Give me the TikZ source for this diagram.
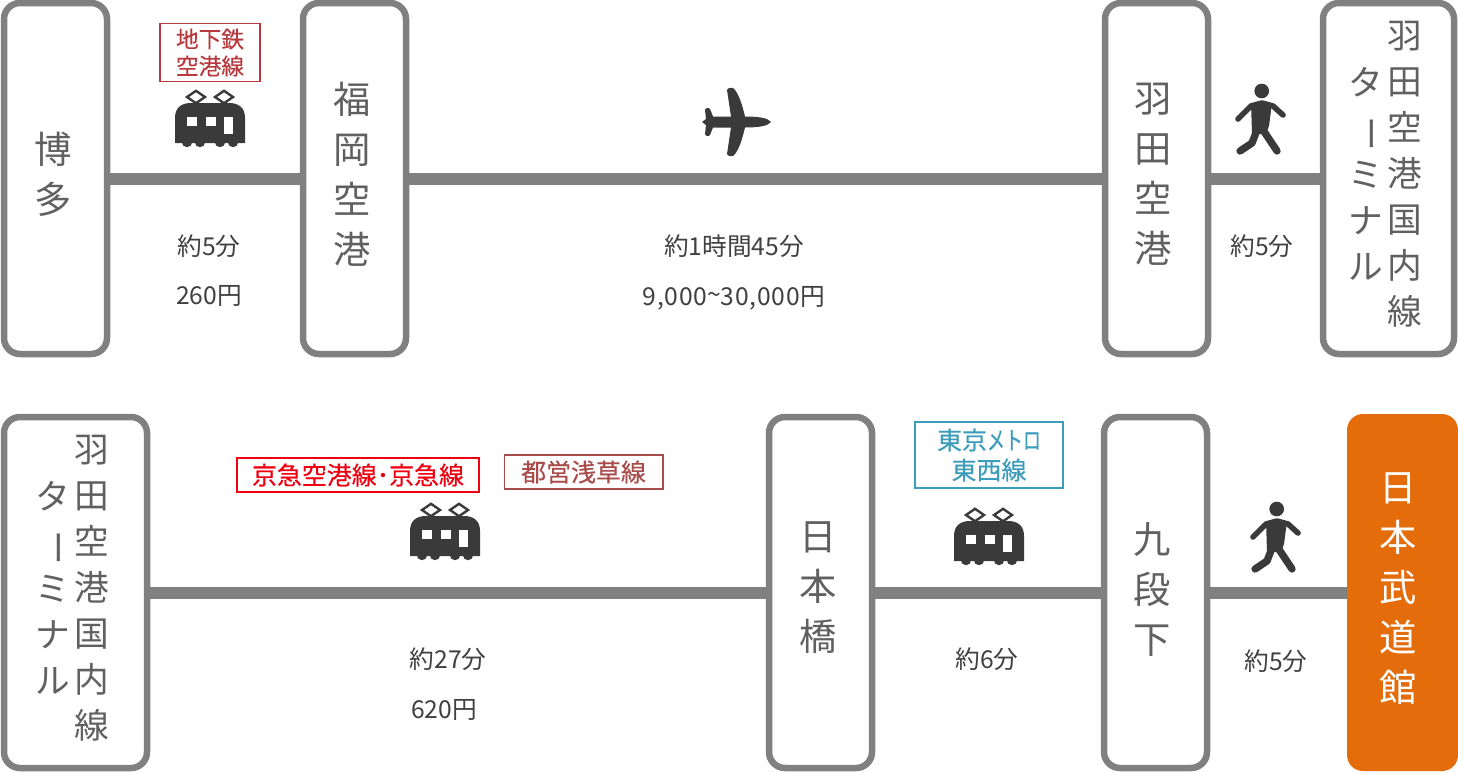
\documentclass[tikz,border=0pt]{standalone}
\usepackage{fontspec}
\setmainfont{Noto Sans CJK JP}
\newfontfamily\tagfont[FakeBold=0.35]{Noto Sans CJK JP}
\definecolor{boxgray}{HTML}{808080}
\definecolor{icondark}{HTML}{3A3A3A}
\definecolor{textgray}{HTML}{606060}
\definecolor{labelgray}{HTML}{404040}
\definecolor{goal}{HTML}{E46C0A}
\definecolor{subred}{HTML}{B83A3E}
\definecolor{keired}{HTML}{EE0011}
\definecolor{toeired}{HTML}{A84C4C}
\definecolor{metroblue}{HTML}{3C9CBC}
\newcommand{\vbar}{\rotatebox[origin=c]{-90}{ー}}
\tikzset{
  x=0.75pt,y=-0.75pt,
  stationbox/.style={draw=boxgray,line width=4.875pt,rounded corners=12pt,fill=white,inner sep=0pt,minimum height=263.25pt},
  goalbox/.style={fill=goal,rounded corners=12pt,inner sep=0pt},
  routeline/.style={draw=boxgray,line width=9pt},
  bigtext/.style={font=\fontsize{28}{37.5}\selectfont,text=textgray,align=center,inner sep=0pt},
  coltext/.style={font=\fontsize{26}{34.5}\selectfont,text=textgray,align=center,inner sep=0pt},
  infotext/.style={font=\fontsize{18.5}{20}\selectfont,text=labelgray,inner sep=0pt},
  tagbox/.style={draw=#1,text=#1,line width=1pt,fill=white,align=center,inner sep=0pt},
  pics/trainicon/.style={code={
    \fill[icondark] (0,53) -- (0,28) .. controls (0,18) and (6,13) .. (16,13) -- (54,13) .. controls (64,13) and (70,18) .. (70,28) -- (70,53) -- cycle;
    \foreach \wx in {12,25,45,58} \fill[icondark] (\wx,52) circle[radius=3.9pt];
    \draw[icondark,line width=1.8pt,fill=white] (12,7) -- (21,0.8) -- (30,7) -- (21,13.2) -- cycle;
    \draw[icondark,line width=1.8pt,fill=white] (40,7) -- (49,0.8) -- (58,7) -- (49,13.2) -- cycle;
    \fill[white] (12,27) rectangle (22,36);
    \fill[white] (31,27) rectangle (41,36);
    \fill[white] (49,27) rectangle (58,44);
  }},
  pics/planeicon/.style={code={
    \fill[icondark] (34,0) .. controls (31,-4) and (22,-5.5) .. (8,-5.5) .. controls (5,-18) and (2,-27) .. (-2,-32) .. controls (-3,-35) and (-9,-35) .. (-10,-32) -- (-6,-5.5) -- (-24,-5.5) -- (-27,-13) .. controls (-28,-15) and (-32,-14) .. (-32,-12) -- (-31,-3) -- (-35,0) -- (-31,3) -- (-32,12) .. controls (-32,14) and (-28,15) .. (-27,13) -- (-24,5.5) -- (-6,5.5) -- (-10,32) .. controls (-9,35) and (-3,35) .. (-2,32) .. controls (2,27) and (5,18) .. (8,5.5) .. controls (22,5.5) and (31,4) .. (34,0) -- cycle;
  }},
  pics/walkericon/.style={code={
    \fill[icondark] (1.7,-27) circle[radius=5.5pt];
    \draw[icondark,line width=4.2pt,line cap=round,line join=round] (-22,1) -- (-9,-12) -- (2,-15) -- (13,-12) -- (23,-3);
    \fill[icondark] (-9,-15) -- (12,-15) -- (9,8) -- (6,16) -- (-8,16) -- cycle;
    \draw[icondark,line width=5.5pt,line cap=round,line join=round] (-3,12) -- (-8,25) -- (-20,33);
    \draw[icondark,line width=5.5pt,line cap=round,line join=round] (3,12) -- (17,33);
  }}
}
\begin{document}
\begin{tikzpicture}
\useasboundingbox (0,0) rectangle (1458,772);
% station boxes
\node[stationbox,minimum width=77.25pt] (hakata) at (55.5,178.5) {};
\node[stationbox,minimum width=77.25pt] (fukuoka) at (354.5,178.5) {};
\node[stationbox,minimum width=77.25pt] (haneda) at (1156.5,178.5) {};
\node[stationbox,minimum width=98.25pt] (term1) at (1388.5,178.5) {};
\node[stationbox,minimum width=107.25pt] (term2) at (75.5,592.5) {};
\node[stationbox,minimum width=77.25pt] (nihonbashi) at (820.5,592.5) {};
\node[stationbox,minimum width=77.25pt] (kudan) at (1155.5,592.5) {};
\node[goalbox,minimum width=83.25pt,minimum height=267.75pt] (budokan) at (1402.5,592.5) {};
% connectors
\draw[routeline] (hakata.east) -- (fukuoka.west);
\draw[routeline] (fukuoka.east) -- (haneda.west);
\draw[routeline] (haneda.east) -- (term1.west);
\draw[routeline] (term2.east) -- (nihonbashi.west);
\draw[routeline] (nihonbashi.east) -- (kudan.west);
\draw[routeline] (kudan.east) -- (budokan.west);
% station names
\node[bigtext] (thakata) at (53,174) {博\\多};
\node[bigtext] (tfukuoka) at (352,174) {福\\岡\\空\\港};
\node[bigtext] (thaneda) at (1153,174) {羽\\田\\空\\港};
\node[coltext,anchor=north] (tterm1a) at (1405,21) {羽\\田\\空\\港\\国\\内\\線};
\node[coltext,anchor=north] (tterm1b) at (1366,67) {タ\\\vbar\\ミ\\ナ\\ル};
\node[coltext,anchor=north] (tterm2a) at (92,435) {羽\\田\\空\\港\\国\\内\\線};
\node[coltext,anchor=north] (tterm2b) at (53,481) {タ\\\vbar\\ミ\\ナ\\ル};
\node[bigtext] (tnihon) at (818,588) {日\\本\\橋};
\node[bigtext] (tkudan) at (1152,589) {九\\段\\下};
\node[bigtext,text=white] (tbudokan) at (1398,589) {日\\本\\武\\道\\館};
% info labels
\node[infotext] (i1) at (209,246) {約5分};
\node[infotext] (i2) at (209,296) {260円};
\node[infotext] (i3) at (734,246) {約1時間45分};
\node[infotext,font=\fontsize{18.5}{20}\selectfont\addfontfeature{LetterSpace=3}] (i4) at (734,298) {9,000\raisebox{1pt}{\textasciitilde}30,000円};
\node[infotext] (i5) at (1262,246) {約5分};
\node[infotext] (i6) at (448,659) {約27分};
\node[infotext] (i7) at (444,710) {620円};
\node[infotext] (i8) at (987,659) {約6分};
\node[infotext] (i9) at (1276,661) {約5分};
% line tags
\node[tagbox=subred,minimum width=75pt,minimum height=43.5pt,font=\tagfont\fontsize{17}{20.25}\selectfont] (tag1) at (210,52.5) {地下鉄\\空港線};
\node[tagbox=keired,minimum width=181.5pt,minimum height=25.5pt,font=\tagfont\fontsize{18.7}{22}\selectfont] (tag2) at (358,475) {京急空港線･京急線};
\node[tagbox=toeired,minimum width=119pt,minimum height=25.5pt,font=\tagfont\fontsize{18.7}{22}\selectfont] (tag3) at (583.5,472) {都営浅草線};
\node[tagbox=metroblue,minimum width=111pt,minimum height=49.5pt,font=\tagfont\fontsize{18.7}{22.5}\selectfont] (tag4) at (989,455) {東京\scalebox{0.72}[1]{メトロ}\\東西線};
% icons
\pic at (175,90) {trainicon};
\pic at (410,503) {trainicon};
\pic at (954,508) {trainicon};
\pic at (737,122) {planeicon};
\pic at (1260,118) {walkericon};
\pic at (1275,536) {walkericon};
\end{tikzpicture}
\end{document}
